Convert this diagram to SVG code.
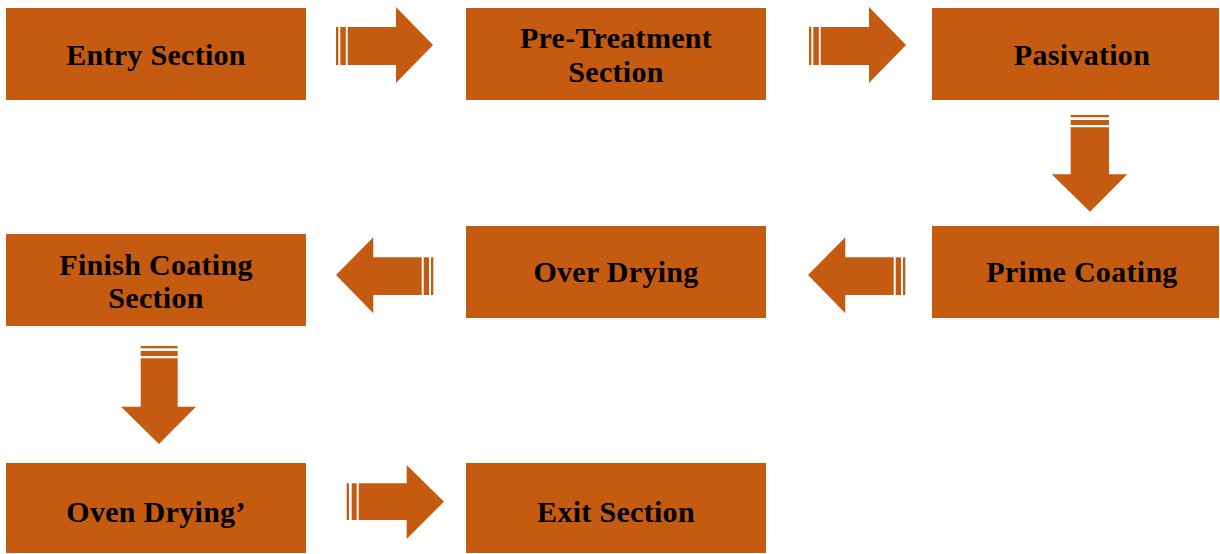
<svg xmlns="http://www.w3.org/2000/svg" width="1220" height="554" viewBox="0 0 1220 554">
<style>
.box{fill:#C55A11}
.arr{fill:#C55A11}
.t{font-family:"Liberation Serif","Times New Roman",serif;font-weight:bold;font-size:30px;letter-spacing:0.3px;fill:#000;text-anchor:middle}
</style>
<rect width="1220" height="554" fill="#fff"/>
<g id="connectors">
  <g id="a1"><rect class="arr" x="336" y="27" width="2.3" height="38"/><rect class="arr" x="340.3" y="27" width="5.5" height="38"/><path class="arr" d="M347.7 27 H396 V7 L433 45 L396 83 V65 H347.7 Z"/></g>
  <g id="a2"><rect class="arr" x="809" y="27" width="2.3" height="38"/><rect class="arr" x="813.3" y="27" width="5.5" height="38"/><path class="arr" d="M820.7 27 H869 V7 L906 45 L869 83 V65 H820.7 Z"/></g>
  <g id="a3"><rect class="arr" x="1070.7" y="115" width="38.3" height="2.3"/><rect class="arr" x="1070.7" y="120" width="38.3" height="5"/><path class="arr" d="M1070.7 127.3 H1109 V174.3 H1127.3 L1090 211.7 L1051.7 174.3 H1070.7 Z"/></g>
  <g id="a4"><rect class="arr" x="903" y="257.3" width="2.3" height="37.7"/><rect class="arr" x="895.7" y="257.3" width="5.3" height="37.7"/><path class="arr" d="M893.7 257.3 H845.3 V237.3 L808 275 L845.3 313.3 V295 H893.7 Z"/></g>
  <g id="a5"><rect class="arr" x="431" y="257.3" width="2.3" height="37.7"/><rect class="arr" x="423.7" y="257.3" width="5.3" height="37.7"/><path class="arr" d="M421.7 257.3 H373.3 V237.3 L336 275 L373.3 313.3 V295 H421.7 Z"/></g>
  <g id="a6"><rect class="arr" x="140.7" y="346" width="37" height="2.3"/><rect class="arr" x="140.7" y="351" width="37" height="5"/><path class="arr" d="M140.7 358.3 H177.7 V406.7 H196 L159 444 L121 406.7 H140.7 Z"/></g>
  <g id="a7"><rect class="arr" x="346.7" y="483.3" width="2.3" height="36.7"/><rect class="arr" x="351.7" y="483.3" width="5" height="36.7"/><path class="arr" d="M358.7 483.3 H406.7 V465 L444 501.7 L406.7 539 V520 H358.7 Z"/></g>
</g>
<g id="entry"><rect class="box" x="6" y="8" width="300" height="92"/><text class="t" x="156" y="65">Entry Section</text></g>
<g id="pretreat"><rect class="box" x="466" y="8" width="300" height="92"/><text class="t" x="616" y="48">Pre-Treatment</text><text class="t" x="616" y="82">Section</text></g>
<g id="pasivation"><rect class="box" x="932" y="8" width="287" height="92"/><text class="t" x="1082" y="65">Pasivation</text></g>
<g id="prime"><rect class="box" x="932" y="226" width="287" height="92"/><text class="t" x="1082" y="282">Prime Coating</text></g>
<g id="overdrying"><rect class="box" x="466" y="226" width="300" height="92"/><text class="t" x="616" y="282">Over Drying</text></g>
<g id="finish"><rect class="box" x="6" y="234" width="300" height="92"/><text class="t" x="156" y="275">Finish Coating</text><text class="t" x="156" y="308">Section</text></g>
<g id="oven"><rect class="box" x="6" y="463" width="300" height="90"/><text class="t" x="156" y="522">Oven Drying’</text></g>
<g id="exit"><rect class="box" x="466" y="463" width="300" height="90"/><text class="t" x="616" y="522">Exit Section</text></g>
</svg>
